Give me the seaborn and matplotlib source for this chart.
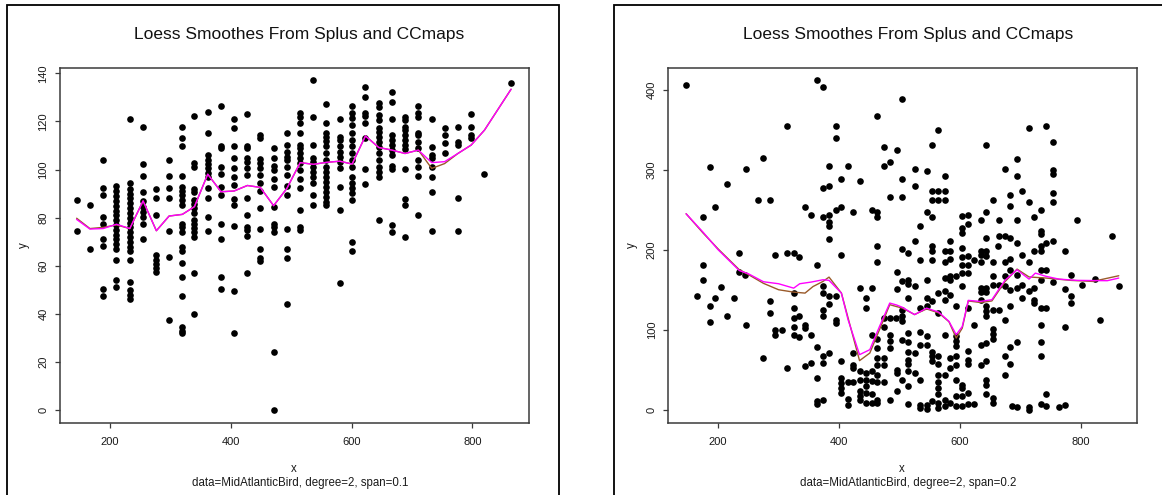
import numpy as np
import pandas as pd
import matplotlib
matplotlib.use("Agg")
import matplotlib.pyplot as plt
from matplotlib.patches import Rectangle
import seaborn as sns

# ---------------- data: left panel (span = 0.1) ----------------
span01_cols = [145, 167, 189, 211, 233, 255, 277, 298, 320, 340, 362, 384, 405.5,
               427.6, 449, 471, 493, 515, 537, 558, 580.5, 601, 623, 645, 667,
               688.5, 710.6, 732.7, 754, 776, 798, 820, 864]
span01_y = [
    [87.3, 74.3],
    [85.3, 67],
    [104.2, 92.2, 89.4, 80.1, 77.3, 71.1, 68.1, 50.5, 47.3],
    [93, 91, 89, 87, 85, 83, 81, 79, 77, 75, 73, 71, 69, 67.1, 62.4, 54.3, 51.3],
    [121, 94.3, 92, 90, 88, 86, 84, 82, 80, 78, 76, 74, 72, 70, 68, 66, 62.4, 53.1, 49.9, 47.8, 46.2],
    [117.8, 102.3, 97.2, 90.9, 87, 84.6, 82.5, 80.4, 77.6, 71.1],
    [92, 88.4, 81.1, 64.5, 62.4, 60.6, 59.2, 57.4],
    [104.2, 97.2, 92.2, 88.4, 74.3, 63.5, 37.4],
    [117.8, 113.3, 110, 97.2, 92.9, 91.2, 89.4, 87.3, 85.5, 77.6, 76.2, 74.2, 67.9, 66.3, 61.3, 55.2, 47.3, 34.7, 33, 31.9],
    [122.1, 102.6, 101.2, 92, 90.8, 87.3, 85.7, 83.9, 81.8, 79, 77.6, 75.8, 74.2, 72, 57.2, 40.2],
    [124, 115.3, 106, 104.2, 102.3, 100.5, 98.7, 96.8, 92.2, 88.3, 80.1, 74.3],
    [126.4, 109.8, 108.8, 101.2, 98.1, 92.9, 89.4, 77.2, 71.1, 55.2, 50.5],
    [120.9, 117.1, 109.8, 104.9, 100.5, 96.8, 93.6, 87.6, 85.3, 76.5, 49.5, 32.3],
    [123.1, 109.8, 108.8, 104.7, 103.3, 100.5, 97.7, 88.3, 81.1, 76.2, 75.1, 72.4, 57.2],
    [114.4, 113.1, 104.5, 102.6, 100.5, 97.7, 94.5, 91.1, 84.1, 75.3, 67, 63.3, 62],
    [109.1, 104.9, 101.5, 99.8, 96.3, 92.9, 84.6, 77.6, 76.2, 74.2, 24.3, 0],
    [115.3, 110.2, 107.4, 105.4, 104, 101.2, 97.7, 93.2, 89.4, 75.3, 67, 63.3, 44.2],
    [123.4, 122, 119.2, 115.3, 110.2, 108.8, 106.7, 104.7, 102.6, 99.8, 96.3, 92.2, 83.2, 76.2, 75.1],
    [137.2, 122, 110.2, 104.7, 103.3, 101.2, 99.1, 97, 94.3, 89.4, 85.3],
    [127.3, 119.2, 115.3, 113.7, 111.9, 109.8, 106.7, 104, 101.2, 99.1, 97, 95, 92.9, 90.8, 88.7, 86.6, 85.3],
    [120.9, 113.7, 112.3, 109.8, 107.4, 105.4, 103.3, 100.5, 92.9, 83.2, 53],
    [126.4, 123.4, 121.3, 118.5, 115.3, 112.3, 109.8, 106.7, 104, 101.2, 97, 94.3, 92.2, 90.1, 87.3, 70, 66],
    [134.2, 130.3, 123.4, 122.3, 119.2, 113, 100.1, 94],
    [127.5, 126.1, 122.7, 120.6, 117.1, 115.7, 113.7, 111.6, 109.5, 106.7, 104, 101.2, 99.1, 97, 79],
    [132.1, 128.2, 120.9, 114.4, 112.3, 110.2, 108.1, 106, 101.5, 100.1, 76.9, 74.2],
    [122, 120.6, 117.8, 116.4, 114.4, 112.3, 110.2, 108.4, 100.1, 87.6, 85.3, 72.2],
    [126.4, 123.4, 122, 115.3, 114.4, 111.6, 108.8, 104, 101.2, 97.3, 81.1],
    [120.9, 109.2, 106, 104.7, 101.2, 97, 90.8, 74.3],
    [117.4, 114.4, 111.2, 107],
    [117.8, 111.6, 110.2, 88.3, 74.3],
    [123.1, 117.8, 114.4, 113],
    [98.1],
    [136],
]
span01_splus = [79.8, 75.5, 76.0, 77.0, 75.5, 87, 74.6, 80.7, 81.4, 84.6, 98.1, 90.8, 91.1,
                93.4, 92.6, 85, 92.2, 102.9, 102.2, 103, 103.5, 102.3, 114, 109.2, 108.1,
                106.7, 108.1, 100.5, 102.5, 106.7, 110.2, 116.4, 133.4]
span01_ccmaps = [79.3, 75.3, 75.5, 77.3, 75.5, 87, 74.6, 80.7, 81.4, 84.6, 98.1, 90.8, 91.1,
                 93.4, 92.6, 85, 92.2, 102.9, 102.2, 103, 103.5, 102.3, 114, 109.2, 108.1,
                 106.7, 108.1, 102.9, 103.3, 106.7, 110.2, 116.4, 133.4]

# ---------------- data: right panel (span = 0.2) ----------------
span02_x = [
    146, 185.7, 246.3, 275, 214.9, 194.5, 175.2, 266.2, 286, 235.3, 294.8, 175.2, 175.2, 235.3,
    245.2, 205.5, 165.8, 194.5, 225.9, 185.7, 214.9, 185.7, 246.3, 286, 286, 294.8, 294.8, 305.9,
    275,
    363.6, 373.5, 314, 394.5, 394.5, 463.4, 473.9, 483.8, 473.9, 383.5, 414.3, 403.3, 434.2,
    373.5, 383.5, 483.8, 343.8, 354.2, 373.5, 383.5, 383.5, 383.5, 383.5, 394.5, 403.3, 423.2,
    454, 463.4, 463.4, 463.4, 463.4, 314, 325, 334.4, 363.6, 403.3, 373.5, 373.5, 383.5, 394.5,
    383.5, 325, 434.2, 454, 444.1, 444.1, 325, 325, 334.4, 325, 325, 334.4, 343.8, 343.8, 354.2,
    373.5, 373.5, 394.5, 394.5, 363.6, 373.5, 383.5, 373.5, 314, 343.8, 354.2, 363.6, 403.3,
    423.2, 423.2, 423.2, 454, 463.4, 463.4, 473.9, 483.8, 473.9, 483.8, 483.8, 483.8, 473.9,
    473.9, 463.4, 463.4, 494.3, 403.3, 403.3, 403.3, 403.3, 414.3, 423.2, 434.2, 444.1, 434.2,
    444.1, 434.2, 434.2, 434.2, 444.1, 444.1, 444.1, 454, 454, 463.4, 463.4, 473.9, 454, 454,
    463.4, 463.4, 483.8, 414.3, 414.3, 363.6, 363.6, 373.5,
    504.6, 564.2, 554.2, 643.6, 496.3, 525, 544.9, 574.7, 504.6, 525, 554.2, 564.2, 574.7, 554.2,
    564.2, 574.7, 504.6, 544.9, 554.2, 533.8, 525, 504.6, 514.5, 533.8, 554.2, 554.2, 554.2,
    574.7, 583.5, 583.5, 574.7, 583.5, 603.3, 603.3, 603.3, 613.8, 613.8, 603.3, 603.3, 603.3,
    603.3, 613.8, 613.8, 613.8, 623.7, 643.6, 654.7, 664.5, 674.5, 683.8, 683.8, 683.8, 664.5,
    674.5, 663.4, 643.6, 634.2, 634.2, 643.6, 634.2, 643.6, 634.2, 654.7, 674.5, 683.8, 683.8,
    496.3, 496.3, 504.6, 514.5, 514.5, 525, 544.9, 563.6, 574.7, 583.5, 583.5, 594, 603.3, 574.7,
    574.7, 583.5, 544.9, 554.2, 514.5, 504.6, 504.6, 504.6, 533.8, 544.9, 564.2, 594, 613.8,
    623.7, 634.2, 634.2, 643.6, 643.6, 634.2, 643.6, 643.6, 643.6, 654.7, 654.7, 664.5, 674.5,
    674.5, 654.7, 664.5, 683.8, 683.8, 674.5, 654.7, 654.7, 654.7, 643.6, 634.2, 683.8, 504.6,
    514.5, 514.5, 533.8, 544.9, 533.8, 544.9, 574.7, 594, 594, 594, 514.5, 525, 514.5, 514.5,
    554.2, 554.2, 564.2, 554.2, 564.2, 583.5, 594, 594, 583.5, 613.8, 613.8, 613.8, 634.2, 643.6,
    674.5, 674.5, 683.8, 496.3, 496.3, 514.5, 525, 533.8, 504.6, 514.5, 496.3, 564.2, 574.7,
    564.2, 564.2, 564.2, 593.5, 603.3, 603.3, 593.5, 603.3, 613.8, 643.6, 643.6, 643.6, 654.7,
    654.7, 514.5, 533.8, 533.8, 544.9, 544.9, 554.2, 564.2, 564.2, 574.7, 574.7, 583.5, 594,
    603.3, 613.8, 623.7, 686.6,
    714.5, 743.2, 754.2, 694.7, 694.7, 754.2, 754.2, 702.9, 754.2, 754.2, 714.5, 734.4, 723.4,
    694.7, 793.9, 734.4, 734.4, 851.8, 694.7, 754.2, 743.2, 734.4, 723.4, 734.4, 774.5, 702.9,
    714.5, 734.4, 743.2, 694.7, 784.3, 734.4, 754.2, 802.2, 823.7, 862.9, 694.7, 702.9, 714.5,
    723.4, 774.5, 784.3, 784.3, 702.9, 723.4, 723.4, 734.4, 743.2, 734.4, 774.5, 832.5, 694.7,
    734.4, 734.4, 743.2, 694.7, 714.5, 714.5, 734.4, 743.2, 763.8, 774.5,
]
span02_y = [
    406, 304, 301, 315, 282.5, 253.3, 240.8, 262.5, 262.5, 195.4, 192.9, 181.3, 162.5, 172,
    168.8, 153.8, 142.1, 139.2, 139.2, 129.6, 117.5, 109.6, 106.3, 136.3, 120.4, 100, 93.8, 100,
    64.2,
    412.5, 403.3, 354.2, 354.2, 340.4, 367.5, 328.3, 310.4, 304.2, 304.2, 304.2, 288.8, 285.8,
    276.7, 279.2, 265.8, 253.3, 243.8, 240.8, 243.8, 234.6, 229.2, 213.8, 250, 253.3, 246.7,
    250, 246.7, 240.8, 205, 184.6, 195.8, 195.8, 190.4, 181.3, 192.9, 154.2, 145.8, 141.7, 141.7,
    132.5, 145.8, 151.7, 151.7, 139.2, 126.7, 126.7, 114.6, 117.5, 103.3, 93.8, 90.8, 106.3, 102,
    93.8, 125, 117.5, 112.5, 108.3, 78.3, 67.5, 70.8, 58.3, 51.7, 55, 58.3, 39.2, 61.3,
    70.8, 56.3, 52, 93.8, 88.8, 77, 114.6, 114.6, 104, 93.8, 85.4, 77, 64.6,
    56.3, 64.6, 56.3, 114.6, 39.6, 33.3, 27, 20.8, 34.2, 34.2, 47.9, 45.8, 37.5,
    37.5, 22.9, 16.7, 11.7, 29.2, 20.8, 8.3, 47.9, 35.4, 43.8, 34.2, 34.2, 19.6, 8.3,
    12.5, 8.3, 12.5, 13.3, 6.3, 11.3, 7.1, 12.5,
    388.3, 349.2, 330.8, 330.8, 325, 300.8, 298.3, 292.1, 288.8, 279.2, 272.9, 272.9, 272.9, 262.5,
    262.5, 262.5, 265.8, 246.7, 240.8, 230, 210.4, 201.3, 195.8, 187.5, 205, 198.8, 187.5,
    198.8, 198.8, 210.4, 184.2, 188.3, 241.7, 227, 220.8, 243.8, 232.5, 202, 190.4, 181.3,
    170.8, 191.7, 181.3, 170.8, 187.5, 246.7, 262.5, 237.5, 300.8, 268.8, 254.2, 214.6, 217.5,
    217.5, 205, 214.2, 237.5, 198.8, 198.8, 192.9, 191.7, 184.6, 184.6, 184.6, 188.8, 175,
    172, 151.2, 160.4, 162.5, 157.5, 154.2, 162.5, 145.8, 164.6, 166.7, 161.7, 166.7, 154.2, 147.9,
    137.5, 143.8, 139.6, 136.3, 139.6, 125, 117.5, 110.4, 127.1, 129.2, 120.8, 129.2, 127.1,
    106.3, 152.1, 147.1, 152.1, 147.1, 137.5, 129.2, 122.9, 116.7, 166.7, 156.3, 156.3, 166.7,
    155, 125, 125, 150, 129.2, 112.5, 100.8, 95, 88.3, 83.3, 81.3, 78.3, 87.5,
    95.8, 84.2, 96.7, 91.7, 81.3, 81.3, 93.8, 91.7, 85.4, 79.2, 71.7, 70.8, 62.5, 57.5,
    71.7, 66.7, 66.7, 60.4, 57.5, 64.6, 66.7, 56.3, 52, 72.9, 62.5, 57.5, 56.3, 60.4,
    67.5, 43.8, 57.5, 50, 45.8, 47.9, 45.8, 37.5, 36.7, 29.2, 22.9, 43.8, 43.8,
    34.2, 27.1, 19.6, 36.7, 31.3, 27.1, 16.7, 16.7, 20.8, 37.5, 31.3, 19.6, 14.6,
    8.3, 7.5, 6.3, 2.1, 6.3, 0.8, 10.4, 8.3, 2.1, 12.5, 4.2, 8.3, 4.2,
    4.2, 7.5, 7.5, 4.2,
    352.1, 354.2, 334.2, 313.3, 291.7, 299.2, 295, 273.8, 270.8, 259.2, 259.2, 250, 240.8,
    237.5, 237.5, 222.9, 219.2, 217.5, 208.3, 211.3, 208.3, 204.2, 198.8, 198.8, 198.8, 192.9,
    184.6, 175, 175, 168.8, 168.8, 162.5, 159.2, 156.3, 163.3, 154.2, 151.7, 156.3, 148.8,
    152.1, 151.2, 142.5, 133.3, 139.2, 136.7, 133.3, 127.1, 127.1, 106.3, 103.3, 112.5, 84.2,
    84.2, 67.5, 19.6, 3.3, 3.3, 0, 7.5, 4.2, 3.3, 6.3,
]
span02_fit_x = [147, 175, 200, 235, 250, 275, 300, 325, 335, 354, 373.5, 383.5, 404, 415,
                434, 451, 467, 484, 495, 505, 525, 545, 565, 582, 594, 604, 614, 634, 653,
                674.5, 694.7, 714.5, 725, 743, 764, 794, 844, 863]
span02_ccmaps = [245, 222, 200, 174, 170, 160, 157.5, 152, 157.5, 159.6, 162.5, 161.7, 145.8,
                 112.5, 68.8, 75, 104, 133.3, 131, 128, 118.8, 127, 122, 110.4, 93.8, 104,
                 136.7, 135.4, 137.5, 161.7, 175, 163.3, 170.8, 166.7, 163.3, 161.7, 161.3, 164.6]
span02_splus_x = [147, 175, 200, 235, 250, 275, 300, 325, 343.8, 357, 373.5, 383.5, 404, 434,
                  451, 467, 484, 495, 505, 525, 545, 565, 582, 594, 604, 614, 634, 653, 674.5,
                  694.7, 714.5, 743, 784, 820, 863]
span02_splus = [245, 221, 201, 175, 169, 158, 150, 147, 145.8, 154, 160.4, 165.8, 145.8, 61.3,
                70.8, 100, 131.3, 129, 127, 119, 126, 121, 110, 89.6, 102, 136, 134, 136, 160,
                175.8, 166, 164.6, 161.7, 160.4, 167.5]

title_text = "Loess Smoothes From Splus and CCmaps"
captions = ["data=MidAtlanticBird, degree=2, span=0.1",
            "data=MidAtlanticBird, degree=2, span=0.2"]

# ---------------- build tables ----------------
left_pts = pd.DataFrame({
    "x": np.concatenate([[c] * len(ys) for c, ys in zip(span01_cols, span01_y)]),
    "y": np.concatenate([np.asarray(ys, float) for ys in span01_y]),
})
right_pts = pd.DataFrame({"x": span02_x, "y": span02_y})
left_fit_a = pd.DataFrame({"x": span01_cols, "y": span01_splus})
left_fit_b = pd.DataFrame({"x": span01_cols, "y": span01_ccmaps})
right_fit_a = pd.DataFrame({"x": span02_splus_x, "y": span02_splus})
right_fit_b = pd.DataFrame({"x": span02_fit_x, "y": span02_ccmaps})

# ---------------- figure ----------------
sns.set_style("white")
plt.rcParams["font.family"] = ["Liberation Sans", "DejaVu Sans"]

W, H = 1162, 495
fig = plt.figure(figsize=(W / 100, H / 100), dpi=100)

def px_rect(l, t, r, b):
    return [l / W, 1 - b / H, (r - l) / W, (b - t) / H]

text_col = "#1a1a1a"
brown = "#9a5a2a"
magenta = "#ff00ff"

panels = [
    (0, 7, 559, left_pts, left_fit_a, left_fit_b, (-5.3, 142.1), np.arange(0, 141, 20)),
    (608.3, 614, 1200, right_pts, right_fit_a, right_fit_b, (-16.7, 427.0), np.arange(0, 401, 100)),
]

for i, (off, bl, br, pts, fa, fb, ylim, yticks) in enumerate(panels):
    # panel border
    fig.patches.append(Rectangle((bl / W, -0.05), (br - bl) / W, 1.05 - 5 / H,
                                 transform=fig.transFigure, fill=False,
                                 edgecolor="black", linewidth=1.3, clip_on=False))
    ax = fig.add_axes(px_rect(60 + off, 68.3, 528.7 + off, 423))
    sns.scatterplot(data=pts, x="x", y="y", ax=ax, color="black", s=23,
                    linewidth=0, legend=False, zorder=2)
    sns.lineplot(data=fa, x="x", y="y", ax=ax, color=brown, linewidth=1.0,
                 sort=False, estimator=None, legend=False, zorder=3)
    sns.lineplot(data=fb, x="x", y="y", ax=ax, color=magenta, linewidth=1.0,
                 sort=False, estimator=None, legend=False, zorder=4)
    ax.set_xlim(117.5, 893.2)
    ax.set_ylim(*ylim)
    ax.set_xticks([200, 400, 600, 800])
    ax.set_yticks(yticks)
    ax.set_xlabel("")
    ax.set_ylabel("")
    for sp in ax.spines.values():
        sp.set_color("#3a3a3a")
        sp.set_linewidth(1.1)
    ax.tick_params(axis="both", direction="out", length=3.8, width=0.9,
                   color="#3a3a3a", labelsize=8, labelcolor=text_col,
                   left=True, bottom=True)
    ax.tick_params(axis="x", pad=6.5)
    ax.tick_params(axis="y", pad=4.5)
    for lab in ax.get_yticklabels():
        lab.set_rotation(90)
        lab.set_va("center")
        lab.set_ha("right")

    fig.text((299.5 + off) / W, 1 - 34 / H, title_text, ha="center", va="center",
             fontsize=12.5, color="#111111")
    fig.text((293.5 + off) / W, 1 - 469 / H, "x", ha="center", va="center",
             fontsize=8.3, color=text_col)
    fig.text((24 + off) / W, 1 - 245.6 / H, "y", ha="center", va="center",
             rotation=90, fontsize=8.3, color=text_col)
    fig.text((300 + off) / W, 1 - 483 / H, captions[i], ha="center", va="center",
             fontsize=8.3, color=text_col)

fig.savefig("out.png", dpi=100, facecolor="white")
